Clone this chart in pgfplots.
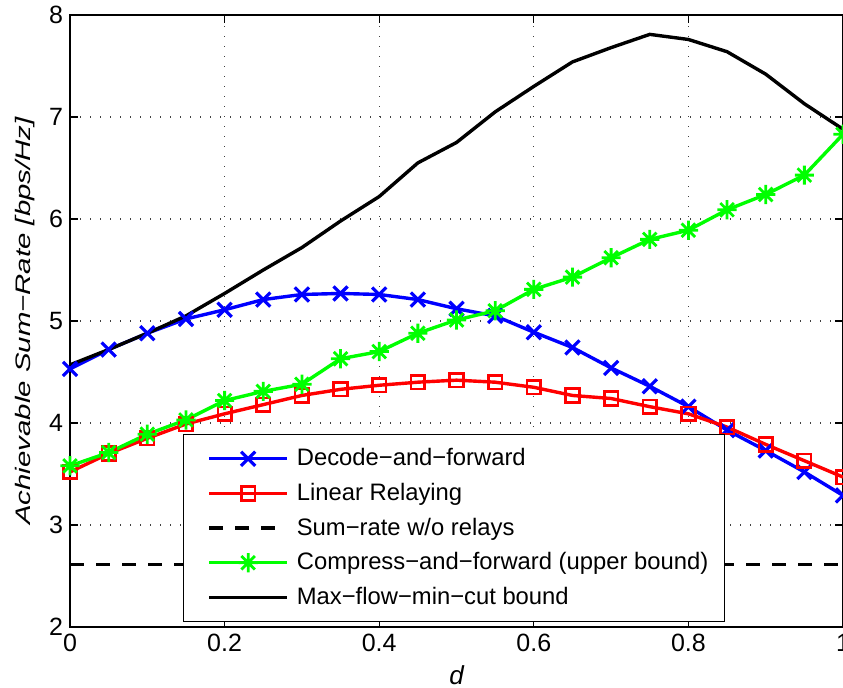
\documentclass[border=0pt]{standalone}
\usepackage{fontspec}
\setmainfont{Liberation Sans}
\newfontfamily\ylabfont[FakeStretch=1.4]{Liberation Sans}
\usepackage{pgfplots}
\pgfplotsset{compat=1.18}

\pgfdeclareplotmark{mstar}{%
  \pgfpathmoveto{\pgfpoint{0pt}{\pgfplotmarksize}}\pgfpathlineto{\pgfpoint{0pt}{-\pgfplotmarksize}}%
  \pgfpathmoveto{\pgfpoint{\pgfplotmarksize}{0pt}}\pgfpathlineto{\pgfpoint{-\pgfplotmarksize}{0pt}}%
  \pgfpathmoveto{\pgfpoint{0.707\pgfplotmarksize}{0.707\pgfplotmarksize}}\pgfpathlineto{\pgfpoint{-0.707\pgfplotmarksize}{-0.707\pgfplotmarksize}}%
  \pgfpathmoveto{\pgfpoint{0.707\pgfplotmarksize}{-0.707\pgfplotmarksize}}\pgfpathlineto{\pgfpoint{-0.707\pgfplotmarksize}{0.707\pgfplotmarksize}}%
  \pgfusepathqstroke}

\definecolor{mblue}{rgb}{0,0,1}
\definecolor{mred}{rgb}{1,0,0}
\definecolor{mgreen}{rgb}{0,1,0}

\begin{document}
\begin{tikzpicture}
\begin{axis}[
  scale only axis, width=386.5pt, height=306pt,
  xmin=0, xmax=1, ymin=2, ymax=8,
  xtick={0,0.2,0.4,0.6,0.8,1},
  xticklabels={0,0.2,0.4,0.6,0.8,1},
  ytick={2,3,4,5,6,7,8},
  /pgf/number format/assume math mode=true,
  grid=major,
  grid style={line width=0.6pt, black!75, dash pattern=on 0.6pt off 4.4pt},
  tick align=inside, tick pos=both, major tick length=4pt,
  every tick/.style={black, line width=0.6pt},
  axis line style={line width=0.8pt},
  tick label style={font=\fontsize{12.5}{14}\selectfont},
  xlabel={\itshape d},
  ylabel={\ylabfont\itshape Achievable Sum−Rate [bps/Hz]},
  xlabel style={font=\fontsize{13}{15}\selectfont, at={(axis description cs:0.5,-0.0784)}, anchor=center},
  ylabel style={font=\fontsize{10.5}{12}\selectfont, at={(axis description cs:-0.0582,0.5)}, anchor=center},
  legend cell align=left,
  legend style={at={(0.146,0.008)}, anchor=south west, draw=black, line width=0.6pt,
    font=\fontsize{11.9}{14}\selectfont, row sep=3.2pt, inner xsep=6pt, inner ysep=5pt,
    nodes={inner sep=2pt}},
  legend image code/.code={\path (0pt,0pt); \path (47pt,0pt);
    \draw[mark repeat=2,mark phase=2,#1] plot coordinates {(6pt,0pt) (25.5pt,0pt) (45pt,0pt)};},
]
\addplot[mblue, line width=1.7pt, mark=x, mark size=5pt, mark options={line width=1.6pt}] coordinates {
(0,4.53) (0.05,4.72) (0.1,4.88) (0.15,5.02) (0.2,5.11) (0.25,5.21) (0.3,5.26) (0.35,5.27) (0.4,5.26) (0.45,5.21) (0.5,5.12) (0.55,5.05) (0.6,4.89) (0.65,4.74) (0.7,4.54) (0.75,4.36) (0.8,4.16) (0.85,3.93) (0.9,3.73) (0.95,3.52) (1,3.29)};
\addlegendentry{Decode−and−forward}
\addplot[mred, line width=1.7pt, mark=square, mark size=3.4pt, mark options={line width=1.3pt}] coordinates {
(0,3.52) (0.05,3.70) (0.1,3.85) (0.15,3.99) (0.2,4.09) (0.25,4.18) (0.3,4.27) (0.35,4.33) (0.4,4.37) (0.45,4.40) (0.5,4.42) (0.55,4.40) (0.6,4.35) (0.65,4.27) (0.7,4.24) (0.75,4.16) (0.8,4.09) (0.85,3.96) (0.9,3.79) (0.95,3.63) (1,3.47)};
\addlegendentry{Linear Relaying}
\addplot[black, line width=1.7pt, dash pattern=on 7pt off 6pt] coordinates {(0,2.61) (1,2.61)};
\addlegendentry{Sum−rate w/o relays}
\addplot[mgreen, line width=1.7pt, mark=mstar, mark size=4.8pt, mark options={line width=1.4pt}] coordinates {
(0,3.58) (0.05,3.71) (0.1,3.89) (0.15,4.03) (0.2,4.22) (0.25,4.31) (0.3,4.38) (0.35,4.63) (0.4,4.70) (0.45,4.88) (0.5,5.01) (0.55,5.10) (0.6,5.31) (0.65,5.43) (0.7,5.62) (0.75,5.80) (0.8,5.89) (0.85,6.09) (0.9,6.24) (0.95,6.43) (1,6.83)};
\addlegendentry{Compress−and−forward (upper bound)}
\addplot[black, line width=1.7pt] coordinates {
(0,4.57) (0.05,4.72) (0.1,4.88) (0.15,5.05) (0.2,5.27) (0.25,5.50) (0.3,5.72) (0.35,5.98) (0.4,6.22) (0.45,6.55) (0.5,6.75) (0.55,7.05) (0.6,7.30) (0.65,7.54) (0.7,7.68) (0.75,7.81) (0.8,7.76) (0.85,7.64) (0.9,7.42) (0.95,7.13) (1,6.88)};
\addlegendentry{Max−flow−min−cut bound}
\coordinate (bl) at (rel axis cs:0,0);
\coordinate (tr) at (rel axis cs:1,1);
\end{axis}
\pgfresetboundingbox
\path (bl) ++(-35pt,-30.5pt) coordinate (b1);
\path (tr) ++(0pt,7.5pt) coordinate (t1);
\path[use as bounding box] (b1) rectangle (t1);
\end{tikzpicture}
\end{document}
